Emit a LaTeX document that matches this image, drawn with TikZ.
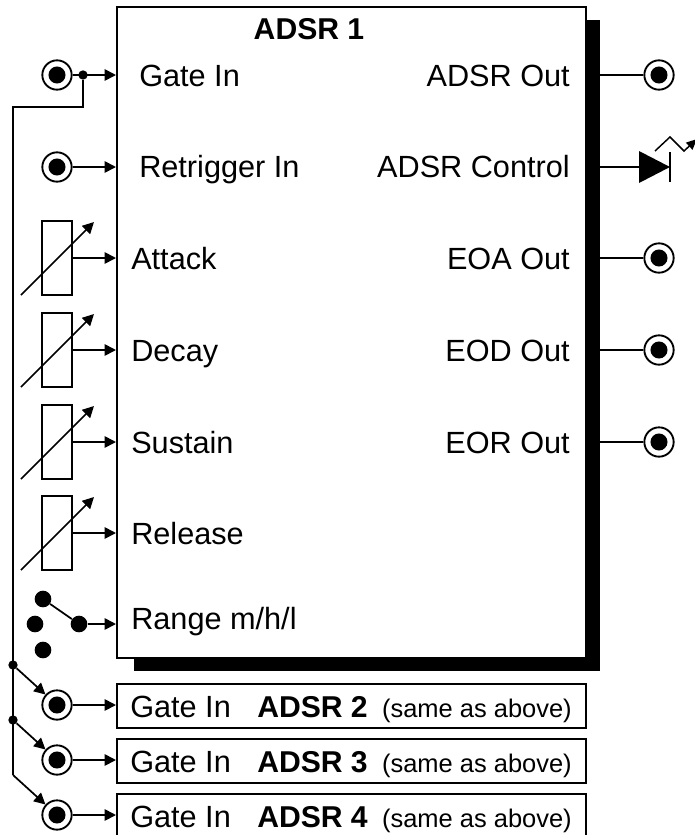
\documentclass[tikz,border=0pt]{standalone}
\usepackage{fontspec}
\setmainfont{Liberation Sans}
\usetikzlibrary{arrows.meta, positioning, calc}
\tikzset{
  px/.style      = {x=0.75pt, y=-0.75pt},
  module/.style  = {rectangle, draw, line width=1.6pt, fill=white, minimum width=351.75pt,
                    anchor=north west},
  shade/.style   = {rectangle, fill=black, anchor=north west, inner sep=0pt},
  lbl/.style     = {font=\fontsize{23}{27}\selectfont, inner sep=0pt},
  boldlbl/.style = {inner sep=0pt, font=\fontsize{22.6}{27}\selectfont\bfseries},
  jack/.style    = {circle, draw, line width=1.4pt, fill=white, minimum size=22pt, inner sep=0pt,
                    path picture={\fill[black] (path picture bounding box.center) circle (6.4pt);}},
  pot/.style     = {rectangle, draw, line width=1.4pt, fill=white, minimum width=22.5pt,
                    minimum height=55pt, inner sep=0pt},
  contact/.style = {circle, fill=black, minimum size=12.5pt, inner sep=0pt},
  joint/.style   = {circle, fill=black, minimum size=7pt, inner sep=0pt},
  flow/.style    = {-{Triangle[length=8.5pt, width=8.5pt]}, line width=1.3pt},
  wire/.style    = {line width=1.3pt},
}
\begin{document}
\begin{tikzpicture}[px]
  \useasboundingbox (0,0) rectangle (695,835);
  \begin{scope}
  \clip (0,0) rectangle (695,835);
  \node[shade, minimum width=349.5pt, minimum height=488.25pt] (shadow) at (134,20) {};
  \node[module, minimum height=488.25pt] (adsr) at (116,6) {};
  \node[module, minimum height=33pt] (adsrb) at (116,683) {};
  \node[module, minimum height=33pt] (adsrc) at (116,738) {};
  \node[module, minimum height=33pt] (adsrd) at (116,793) {};
  \end{scope}

  \node[boldlbl, anchor=base] (title) at (309,39) {ADSR 1};

  % inputs
  \node[lbl, anchor=base west] (lgate) at (139,86) {Gate In};
  \node[lbl, anchor=base west] (lretrig) at (139,177) {Retrigger In};
  \node[lbl, anchor=base west] (lattack) at (131,269) {Attack};
  \node[lbl, anchor=base west] (ldecay) at (131,361) {Decay};
  \node[lbl, anchor=base west] (lsustain) at (131,453) {Sustain};
  \node[lbl, anchor=base west] (lrelease) at (131,544) {Release};
  \node[lbl, anchor=base west] (lrange) at (131,629) {Range m/h/l};

  % outputs
  \node[lbl, anchor=base east] (ladsr) at (570,86) {ADSR Out};
  \node[lbl, anchor=base east] (lctrl) at (570,177) {ADSR Control};
  \node[lbl, anchor=base east] (leoa) at (570,269) {EOA Out};
  \node[lbl, anchor=base east] (leod) at (570,361) {EOD Out};
  \node[lbl, anchor=base east] (leor) at (570,453) {EOR Out};

  \node[jack] (jgate) at (57,75) {};
  \node[jack] (jretrig) at (57,167) {};
  \node[jack] (jadsr) at (659,75) {};
  \node[jack] (jeoa) at (659,258) {};
  \node[jack] (jeod) at (659,350) {};
  \node[jack] (jeor) at (659,442) {};
  \node[jack] (jb) at (57,705) {};
  \node[jack] (jc) at (57,760) {};
  \node[jack] (jd) at (57,815) {};

  \node[pot] (pattack) at (57,258) {};
  \node[pot] (pdecay) at (57,350) {};
  \node[pot] (psustain) at (57,442) {};
  \node[pot] (prelease) at (57,533) {};

  \node[joint] (jtop) at (83,75) {};
  \draw[flow] (jgate) -- (116,75);
  \draw[flow] (jretrig) -- (116,167);
  \foreach \n/\y in {attack/258, decay/350, sustain/442, release/533}{
    \draw[flow] (p\n.east |- 0,\y) -- (116,\y);
    \draw[flow] ($(p\n.center)+(-36,37)$) -- ($(p\n.center)+(37,-36)$);
  }
  \foreach \n/\y in {adsr/75, eoa/258, eod/350, eor/442}{
    \draw[wire] (600,\y) -- (j\n);
  }

  % led
  \coordinate (ledin) at (600,167);
  \coordinate (ledtip) at (670,167);
  \draw[wire] (ledin) -- (639,167);
  \fill (639,151) -- (ledtip) -- (639,183) -- cycle;
  \draw[wire] (670,152) -- (670,182);
  \draw[-{Triangle[length=8pt, width=7pt]}, line width=1.1pt]
    (655,151) -- (670,137) -- (684,151) -- (697,139);

  % range switch
  \node[contact] (sa) at (43,599) {};
  \node[contact] (sb) at (35,624) {};
  \node[contact] (sc) at (43,650) {};
  \node[contact] (sw) at (79,624) {};
  \draw[wire] (sa) -- (sw);
  \draw[flow] (sw) -- (116,624);

  % gate bus
  \node[joint] (busb) at (13,665) {};
  \node[joint] (busc) at (13,720) {};
  \coordinate (busd) at (13,775);
  \draw[wire] (jtop) |- (13,107) -- (busd);
  \draw[flow] (busb) -- (jb);
  \draw[flow] (busc) -- (jc);
  \draw[flow] (busd) -- (jd);
  \draw[flow] (jb) -- (116,705);
  \draw[flow] (jc) -- (116,760);
  \draw[flow] (jd) -- (116,815);

  \foreach \n/\k/\y in {b/2/705, c/3/760, d/4/815}{
    \node[lbl, anchor=base west] (lg\n) at (130,\y+12) {Gate In};
    \node[boldlbl, anchor=base west] (lm\n) at (257,\y+12) {ADSR \k};
    \node[lbl, anchor=base east, font=\fontsize{19.1}{23}\selectfont] (ls\n) at (572,\y+12) {(same as above)};
  }
\end{tikzpicture}
\end{document}
